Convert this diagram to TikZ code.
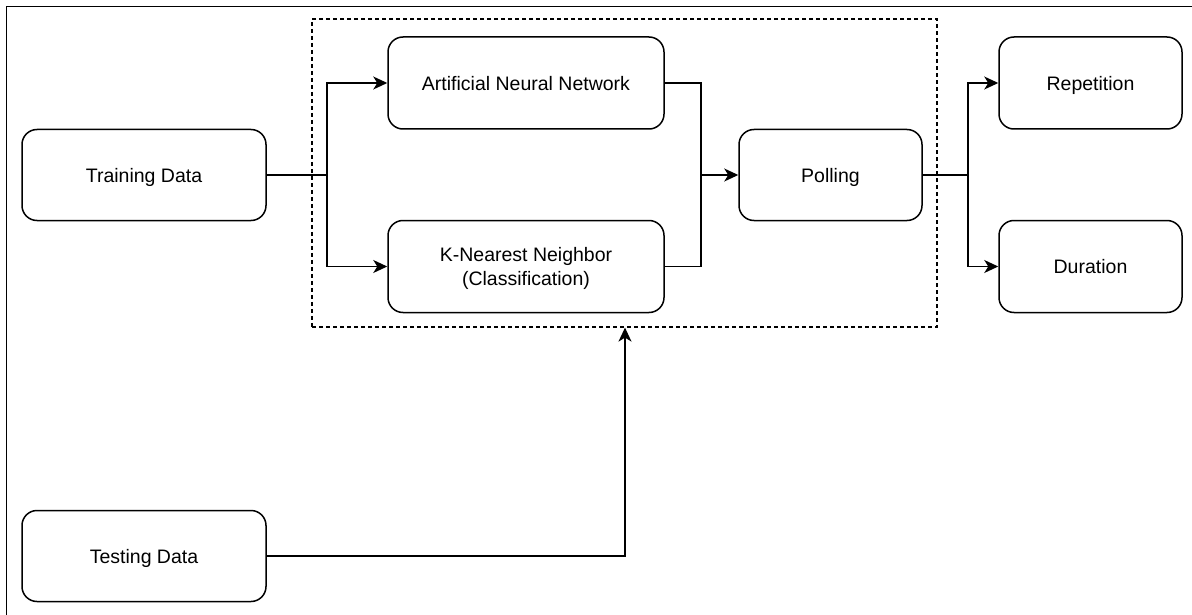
\documentclass[tikz,border=0pt]{standalone}
\usepackage{fontspec}
\setmainfont{Liberation Sans}
\usetikzlibrary{arrows.meta}
\begin{document}
\begin{tikzpicture}[x=1pt,y=-1pt,
  box/.style={draw,line width=1.5pt,rounded corners=15pt,align=center,font=\fontsize{19.5}{23.5}\selectfont,inner sep=0pt,text depth=0pt},
  conn/.style={line width=1.5pt},
  arr/.style={conn,-{Stealth[length=14pt,width=13pt,inset=4pt]}}]
\useasboundingbox (0,0) rectangle (1192,615);
\draw[line width=1.5pt] (6.5,615) -- (6.5,6.5) -- (1192,6.5);
\node[box,minimum width=244pt,minimum height=91pt] (train) at (144,175) {Training Data};
\node[box,minimum width=244pt,minimum height=91pt] (test) at (144,556) {Testing Data};
\node[box,minimum width=276pt,minimum height=92pt] (ann) at (526,83) {Artificial Neural Network};
\node[box,minimum width=276pt,minimum height=92pt] (knn) at (526,266.5) {K-Nearest Neighbor\\(Classification)};
\node[box,minimum width=183pt,minimum height=91pt] (poll) at (830.5,175) {Polling};
\node[box,minimum width=183pt,minimum height=92pt] (rep) at (1090.5,83) {Repetition};
\node[box,minimum width=183pt,minimum height=92pt] (dur) at (1090.5,266.5) {Duration};
\node[draw,line width=1.2pt,dash pattern=on 4pt off 3pt,minimum width=625pt,minimum height=308pt,inner sep=0pt] (frame) at (624.5,173) {};
\coordinate (tj) at (327,175);
\coordinate (pj) at (701,175);
\coordinate (oj) at (968,175);
\draw[conn] (train.east) -- (tj);
\draw[arr] (tj) |- (ann.west);
\draw[arr] (tj) |- (knn.west);
\draw[conn] (ann.east) -| (pj);
\draw[conn] (knn.east) -| (pj);
\draw[arr] (pj) -- (poll.west);
\draw[conn] (poll.east) -- (oj);
\draw[arr] (oj) |- (rep.west);
\draw[arr] (oj) |- (dur.west);
\draw[arr] (test.east) -| (frame.south -| 625,0);
\end{tikzpicture}
\end{document}
